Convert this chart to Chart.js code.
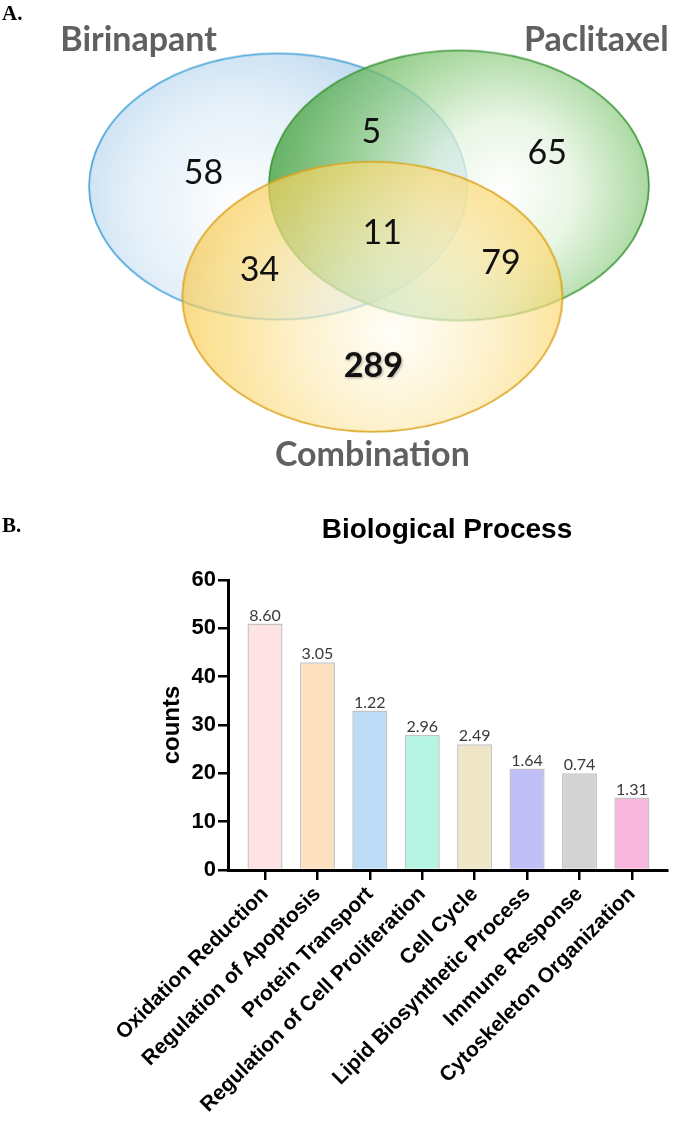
<!DOCTYPE html>
<html>
<head>
<meta charset="utf-8">
<script src="https://cdn.jsdelivr.net/npm/chart.js@4"></script>
<style>
  html, body { margin: 0; padding: 0; background: #fff; }
  #vennBox { position: absolute; left: 0; top: 0; width: 676px; height: 490px; }
  #barBox { position: absolute; left: 0; top: 490px; width: 676px; height: 637px; }
</style>
</head>
<body>
<div id="vennBox"><canvas id="venn"></canvas></div>
<div id="barBox"><canvas id="bars"></canvas></div>
<script>
// ---- data ----
const setNames = ['Birinapant', 'Paclitaxel', 'Combination'];
const regionNames = ['Birinapant only', 'Birinapant & Paclitaxel', 'Paclitaxel only', 'All three',
                     'Birinapant & Combination', 'Paclitaxel & Combination', 'Combination only'];
const regionCounts = [58, 5, 65, 11, 34, 79, 289];

const categories = ['Oxidation Reduction', 'Regulation of Apoptosis', 'Protein Transport',
                    'Regulation of Cell Proliferation', 'Cell Cycle', 'Lipid Biosynthetic Process',
                    'Immune Response', 'Cytoskeleton Organization'];
const counts = [51, 43, 33, 28, 26, 21, 20, 15];
const barNotes = ['8.60', '3.05', '1.22', '2.96', '2.49', '1.64', '0.74', '1.31'];
const yTicks = [0, 10, 20, 30, 40, 50, 60];

// ---- venn layout (page pixels used as data units) ----
const vennSets = [
  { x: 277, y: 185, rx: 189, ry: 133 },
  { x: 461, y: 184, rx: 190, ry: 135 },
  { x: 373, y: 298, rx: 190, ry: 135 }
];
const regionAnchors = [[201, 182], [372, 140], [551, 162], [383, 244], [258, 282], [504, 275], [374, 380]];
const setLabelAnchors = [[135, 46, 164], [601, 46, 145], [373, 472, 201]];

const barColors = ['#fde3e3', '#fde0bd', '#bcdcf7', '#b5f3e3', '#efe5c7', '#c0bff8', '#d3d3d3', '#f9b6dd'];

function ellipseImage(rx, ry, hx, hy, stops, stroke, alpha) {
  const c = document.createElement('canvas');
  c.width = Math.round(rx * 2 + 4);
  c.height = Math.round(ry * 2 + 4);
  const g = c.getContext('2d');
  const cx = c.width / 2, cy = c.height / 2;
  const grad = g.createRadialGradient(cx + hx, cy + hy, 0, cx + hx, cy + hy, Math.max(rx, ry) * 1.25);
  stops.forEach(s => grad.addColorStop(s[0], s[1]));
  g.beginPath();
  g.ellipse(cx, cy, rx, ry, 0, 0, Math.PI * 2);
  g.globalAlpha = alpha;
  g.fillStyle = grad;
  g.fill();
  g.globalAlpha = 1;
  g.lineWidth = 1.6;
  g.strokeStyle = stroke;
  g.stroke();
  return c;
}

const vennStyles = [
  ellipseImage(189, 133, -40, 20, [[0, '#ffffff'], [0.45, '#e4f0f9'], [0.85, '#bcd8ef'], [1, '#a8cdec']], '#3fa0d8', 1),
  ellipseImage(190, 135, 45, 5, [[0, '#ffffff'], [0.3, '#e2f3dc'], [0.62, '#8ccb80'], [0.9, '#4aa544'], [1, '#3a9a35']], '#3a9436', 0.75),
  ellipseImage(190, 135, 22, 37, [[0, '#fffdf6'], [0.35, '#fdeebe'], [0.75, '#fbd66a'], [1, '#f4c03c']], '#d9a21a', 0.68)
];

const vennText = {
  id: 'vennText',
  afterDatasetsDraw(chart) {
    const ctx = chart.ctx;
    ctx.save();
    ctx.textAlign = 'center';
    ctx.textBaseline = 'alphabetic';
    chart.getDatasetMeta(1).data.forEach((pt, i) => {
      const big = regionCounts[i] === 289;
      ctx.font = (big ? 'bold ' : '') + '34px Lato';
      ctx.fillStyle = '#111';
      if (big) {
        ctx.shadowColor = 'rgba(0,0,0,0.35)';
        ctx.shadowBlur = 3;
        ctx.shadowOffsetX = 1;
        ctx.shadowOffsetY = 1;
      }
      ctx.fillText(String(regionCounts[i]), pt.x, pt.y);
      ctx.shadowColor = 'transparent';
    });
    ctx.font = 'bold 34px Lato';
    ctx.fillStyle = '#606060';
    chart.getDatasetMeta(2).data.forEach((pt, i) => {
      ctx.fillText(setNames[i], pt.x, pt.y, setLabelAnchors[i][2]);
    });
    ctx.textAlign = 'left';
    ctx.fillStyle = '#000';
    ctx.font = 'bold 21px "Liberation Serif"';
    ctx.fillText('A.', 2, 20);
    ctx.restore();
  }
};

new Chart(document.getElementById('venn'), {
  type: 'scatter',
  data: {
    datasets: [
      {
        label: 'sets',
        data: vennSets.map(s => ({ x: s.x, y: s.y })),
        pointStyle: vennStyles,
        radius: 5
      },
      {
        label: 'regions',
        data: regionAnchors.map(p => ({ x: p[0], y: p[1] })),
        radius: 0
      },
      {
        label: 'set labels',
        data: setLabelAnchors.map(p => ({ x: p[0], y: p[1] })),
        radius: 0
      }
    ]
  },
  options: {
    responsive: true,
    maintainAspectRatio: false,
    animation: false,
    events: [],
    layout: { padding: 0 },
    plugins: { legend: { display: false }, tooltip: { enabled: false } },
    scales: {
      x: { type: 'linear', display: false, min: 0, max: 676 },
      y: { type: 'linear', display: false, min: 0, max: 490, reverse: true }
    }
  },
  plugins: [vennText]
});

const barText = {
  id: 'barText',
  afterDatasetsDraw(chart) {
    const ctx = chart.ctx;
    ctx.save();
    ctx.textAlign = 'center';
    ctx.textBaseline = 'alphabetic';
    ctx.font = '16px Lato';
    ctx.fillStyle = '#3a3a3a';
    chart.getDatasetMeta(0).data.forEach((bar, i) => {
      ctx.fillText(barNotes[i], bar.x, bar.y - 3);
    });
    ctx.fillStyle = '#000';
    ctx.font = 'bold 28px "Liberation Sans"';
    ctx.fillText('Biological Process', 447, 48);
    ctx.textAlign = 'left';
    ctx.font = 'bold 21px "Liberation Serif"';
    ctx.fillText('B.', 2, 42);
    ctx.restore();
  }
};

new Chart(document.getElementById('bars'), {
  type: 'bar',
  data: {
    datasets: [{
      label: 'counts',
      data: counts.map((v, i) => ({ x: i, y: v })),
      backgroundColor: barColors,
      borderColor: '#c4c4c4',
      borderWidth: 1.5,
      borderSkipped: 'bottom',
      categoryPercentage: 1,
      barPercentage: 0.67
    }]
  },
  options: {
    responsive: true,
    maintainAspectRatio: false,
    animation: false,
    events: [],
    layout: { padding: { top: 90, left: 158, right: 9, bottom: 0 } },
    plugins: { legend: { display: false }, tooltip: { enabled: false } },
    scales: {
      x: {
        type: 'linear',
        min: -0.706,
        max: 7.67,
        offset: false,
        afterBuildTicks: s => { s.ticks = categories.map((c, i) => ({ value: i })); },
        afterFit: s => { s.height = 257; s.paddingRight = 0; },
        ticks: {
          autoSkip: false,
          minRotation: 45,
          maxRotation: 45,
          padding: 2,
          color: '#000',
          font: { family: '"Liberation Sans"', size: 21, weight: 'bold' },
          callback: v => categories[v]
        },
        grid: { offset: false, drawOnChartArea: false, drawTicks: true, tickLength: 10, color: '#000', lineWidth: 2.5 },
        border: { display: true, color: '#000', width: 3 }
      },
      y: {
        min: 0,
        max: 60,
        afterBuildTicks: s => { s.ticks = yTicks.map(v => ({ value: v })); },
        afterFit: s => { s.width = 70; },
        ticks: {
          padding: 2,
          color: '#000',
          font: { family: '"Liberation Sans"', size: 22, weight: 'bold' }
        },
        title: {
          display: true,
          text: 'counts',
          color: '#000',
          padding: { top: 0, bottom: 0 },
          font: { family: '"Liberation Sans"', size: 24, weight: 'bold' }
        },
        grid: { drawOnChartArea: false, drawTicks: true, tickLength: 10, color: '#000', lineWidth: 2.5 },
        border: { display: true, color: '#000', width: 3 }
      }
    }
  },
  plugins: [barText]
});
</script>
</body>
</html>
